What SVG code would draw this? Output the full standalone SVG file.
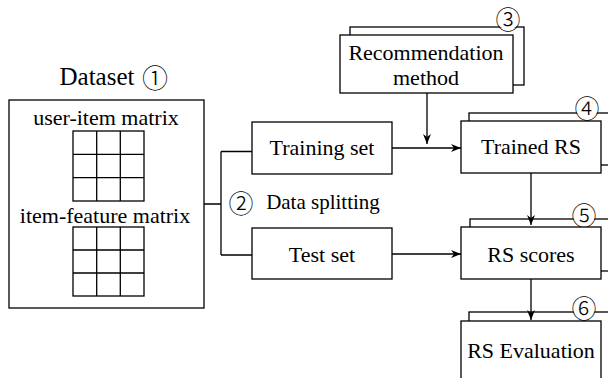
<svg xmlns="http://www.w3.org/2000/svg" width="608" height="378" viewBox="0 0 608 378">
<defs>
<style>
text{font-family:'Liberation Serif','Times New Roman',Times,'DejaVu Serif',serif}
.t{font-size:22px;fill:#000;text-anchor:middle}
.c{font-family:'Noto Sans CJK JP','Noto Sans CJK SC',sans-serif;font-size:25px;font-weight:300;fill:#000;text-anchor:middle;dominant-baseline:central}
.b{fill:#fff;stroke:#000;stroke-width:1.3}
.g{fill:none;stroke:#000;stroke-width:1.3}
.l{fill:none;stroke:#000;stroke-width:1.3}
.w{fill:#fff;stroke:none}
</style>
<marker id="ah" markerWidth="11" markerHeight="9" refX="10" refY="4.5" orient="auto" markerUnits="userSpaceOnUse">
<path d="M0,0.5 L10,4.5 L0,8.5 L3,4.5 z" fill="#000"/>
</marker>
</defs>
<rect width="608" height="378" fill="#fff"/>

<g id="dataset">
<text class="t" x="97" y="85" style="font-size:25px">Dataset</text>
<text class="c" x="155" y="76" style="font-size:26px">①</text>
<rect class="b" x="9" y="100" width="195" height="208"/>
<text class="t" x="106" y="125">user-item matrix</text>
<g class="g">
<rect x="73" y="131" width="71" height="70"/>
<path d="M96.7,131V201M120.3,131V201M73,154.3H144M73,177.7H144"/>
</g>
<text class="t" x="105" y="223">item-feature matrix</text>
<g class="g">
<rect x="73" y="227" width="71" height="69"/>
<path d="M96.7,227V296M120.3,227V296M73,250H144M73,273H144"/>
</g>
</g>

<g id="split-label">
<text class="c" x="241" y="202">②</text>
<text class="t" x="323" y="209" style="font-size:21px">Data splitting</text>
</g>

<g id="training-set">
<rect class="b" x="252" y="122" width="140" height="52"/>
<text class="t" x="322" y="155">Training set</text>
</g>

<g id="test-set">
<rect class="b" x="252" y="228" width="140" height="51"/>
<text class="t" x="322" y="262">Test set</text>
</g>

<g id="recommendation-method">
<rect class="b" x="350" y="27" width="174" height="58"/>
<circle class="w" cx="508" cy="18" r="11.5"/>
<text class="c" x="508" y="18">③</text>
<rect class="b" x="340" y="35" width="173" height="58"/>
<text class="t" x="426" y="60">Recommendation</text>
<text class="t" x="426" y="85">method</text>
</g>

<g id="trained-rs">
<rect class="b" x="469" y="113" width="140" height="52"/>
<circle class="w" cx="587" cy="107" r="11.5"/>
<text class="c" x="587" y="107">④</text>
<rect class="b" x="461" y="121" width="140" height="52"/>
<text class="t" x="531" y="154">Trained RS</text>
</g>

<g id="rs-scores">
<rect class="b" x="470" y="219" width="140" height="52"/>
<circle class="w" cx="584" cy="214" r="11.5"/>
<text class="c" x="584" y="214">⑤</text>
<rect class="b" x="461" y="227" width="140" height="52"/>
<text class="t" x="531" y="262">RS scores</text>
</g>

<g id="rs-evaluation">
<rect class="b" x="469" y="312" width="140" height="80"/>
<circle class="w" cx="584" cy="307" r="11.5"/>
<text class="c" x="584" y="307">⑥</text>
<rect class="b" x="461" y="321" width="140" height="70"/>
<text class="t" x="531" y="358">RS Evaluation</text>
</g>

<g id="connectors" class="l">
<path d="M204,204H221M221,151.5V255M221,151.5H252M221,255H252"/>
<path d="M392,148H461" marker-end="url(#ah)"/>
<path d="M392,254H461" marker-end="url(#ah)"/>
<path d="M427,93V144" marker-end="url(#ah)"/>
<path d="M531,173V225" marker-end="url(#ah)"/>
<path d="M531,279V320" marker-end="url(#ah)"/>
</g>
</svg>
